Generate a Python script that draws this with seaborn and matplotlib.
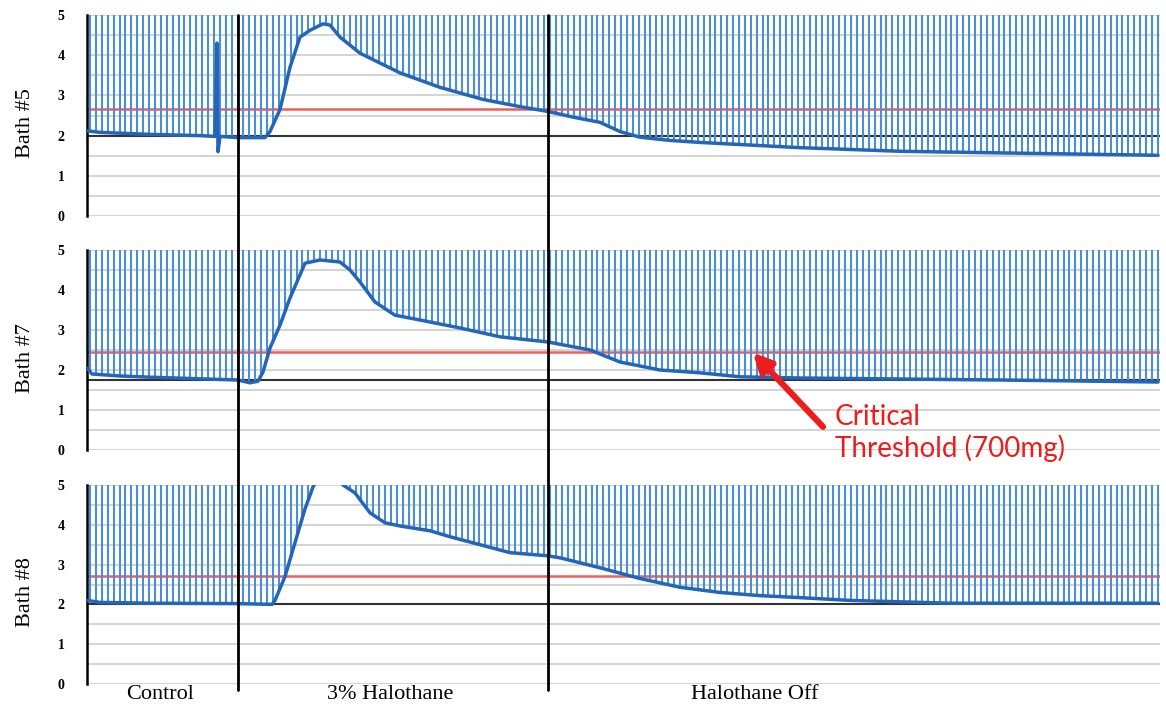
import numpy as np
import matplotlib
matplotlib.use("Agg")
import matplotlib.pyplot as plt
import matplotlib.transforms as mtransforms
from matplotlib.lines import Line2D
import seaborn as sns

# ---------------- data (time in minutes, force in arbitrary units) ----------------
bath_names = ["Bath #5", "Bath #7", "Bath #8"]

bath5_t = [0.0, 1.3, 6.3, 11.3, 12.8, 13.0, 13.1, 13.3, 15.1, 17.8, 18.3, 19.3, 20.3, 21.3, 22.3, 23.6, 24.3, 25.3, 27.3, 31.3, 35.3, 39.6, 43.3, 46.1, 48.8, 51.3, 53.3, 55.3, 58.3, 61.3, 71.3, 81.3, 91.3, 107.1]
bath5_v = [2.12, 2.08, 2.03, 2.00, 1.98, 4.30, 1.60, 1.98, 1.95, 1.95, 2.10, 2.65, 3.70, 4.45, 4.62, 4.78, 4.75, 4.45, 4.05, 3.56, 3.20, 2.90, 2.72, 2.60, 2.45, 2.33, 2.10, 1.96, 1.88, 1.83, 1.70, 1.61, 1.57, 1.51]

bath7_t = [0.0, 0.5, 3.3, 6.3, 11.3, 15.1, 16.3, 17.1, 17.6, 18.3, 19.3, 20.3, 21.8, 23.3, 25.3, 26.3, 27.3, 28.8, 30.8, 33.3, 37.3, 41.3, 46.1, 50.3, 53.3, 57.3, 61.3, 65.3, 71.3, 91.3, 107.1]
bath7_v = [2.05, 1.90, 1.85, 1.82, 1.78, 1.75, 1.68, 1.72, 1.95, 2.55, 3.12, 3.80, 4.67, 4.75, 4.70, 4.50, 4.20, 3.70, 3.37, 3.25, 3.05, 2.83, 2.70, 2.50, 2.20, 2.00, 1.93, 1.83, 1.80, 1.75, 1.70]

bath8_t = [0.0, 1.3, 6.3, 15.1, 18.5, 18.8, 19.8, 20.8, 21.8, 22.6, 23.3, 24.8, 25.6, 26.8, 28.3, 29.8, 31.3, 34.3, 36.3, 39.3, 42.3, 46.1, 47.3, 51.3, 55.3, 59.3, 63.3, 67.3, 71.3, 76.3, 86.3, 107.1]
bath8_v = [2.10, 2.05, 2.03, 2.02, 2.00, 2.10, 2.70, 3.55, 4.40, 4.95, 5.30, 5.30, 5.00, 4.80, 4.30, 4.05, 3.97, 3.85, 3.70, 3.50, 3.30, 3.22, 3.17, 2.92, 2.65, 2.43, 2.30, 2.22, 2.17, 2.10, 2.03, 2.03]

baselines = [2.0, 1.75, 2.0]          # black reference lines
thresholds = [2.65, 2.45, 2.72]       # red critical threshold (700 mg)

phase_bounds = [15.1, 46.1]           # end of Control, end of 3% Halothane
phase_labels = ["Control", "3% Halothane", "Halothane Off"]
phase_label_pos = [7.3, 30.3, 66.8]

stim_start = 0.3
stim_interval = 0.59                  # twitch stimulation period
t_end = 107.3

traces = [(bath5_t, bath5_v), (bath7_t, bath7_v), (bath8_t, bath8_v)]

# ---------------- figure ----------------
sns.set_theme(style="white")
plt.rcParams["font.family"] = ["Liberation Serif", "DejaVu Serif"]
plt.rcParams["text.color"] = "black"
plt.rcParams["axes.labelcolor"] = "black"
plt.rcParams["xtick.color"] = "black"
plt.rcParams["ytick.color"] = "black"

W, H = 1166, 710
fig = plt.figure(figsize=(W / 100, H / 100), dpi=100)

panel_px = [(15, 216), (250, 450), (485, 684)]   # top, bottom in pixels
left_px, right_px = 87, 1160

spike_color = "#4a8fd6"
trace_color = "#2366b8"

axes = []
stim_t = np.arange(stim_start, t_end - 0.1, stim_interval)
for i, ((top, bot), (tt, vv)) in enumerate(zip(panel_px, traces)):
    ax = fig.add_axes([left_px / W, 1 - bot / H, (right_px - left_px) / W, (bot - top) / H])
    axes.append(ax)
    ax.set_xlim(0, t_end)
    ax.set_ylim(0, 5)

    # grid lines
    for g in np.arange(0, 5.01, 0.5):
        ax.axhline(g, color="#d4d4d4", lw=1.4, zorder=0)

    # twitch spikes from trace up to top
    bottoms = np.minimum(np.interp(stim_t, tt, vv), 5)
    ax.vlines(stim_t, bottoms, 5, color=spike_color, lw=1.5, zorder=2)

    # baseline & threshold
    ax.axhline(baselines[i], color="#333333", lw=1.5, zorder=1)
    ax.axhline(thresholds[i], color="#f25c5c", lw=1.8, zorder=1.5)

    # force trace
    sns.lineplot(x=tt, y=vv, ax=ax, color=trace_color, lw=2.5, zorder=3, estimator=None, sort=False)

    # styling
    for s in ["top", "right", "bottom"]:
        ax.spines[s].set_visible(False)
    ax.spines["left"].set_color("black")
    ax.spines["left"].set_linewidth(1.8)
    ax.set_yticks([0, 1, 2, 3, 4, 5])
    ax.set_yticklabels(["0", "1", "2", "3", "4", "5"], fontweight="bold", fontsize=10)
    ax.tick_params(axis="y", length=0, pad=16, labelcolor="black")
    ax.set_ylabel(bath_names[i], fontsize=16, color="black")
    ax.yaxis.set_label_coords(-0.048, 0.46)
    ax.set_xlabel("")
    if i < 2:
        ax.set_xticks([])
    else:
        ax.set_xticks(phase_label_pos)
        ax.set_xticklabels(phase_labels, fontsize=16)
        ax.tick_params(axis="x", length=0, pad=1, labelcolor="black")

# vertical phase lines spanning all panels
trans = mtransforms.blended_transform_factory(axes[2].transData, fig.transFigure)
for xb in phase_bounds:
    fig.add_artist(Line2D([xb, xb], [1 - 690 / H, 1 - 15 / H], transform=trans,
                          color="black", lw=2.0, zorder=10))

# annotation on Bath #7
ax2 = axes[1]
ax2.annotate("", xy=(66.6, 2.43), xytext=(73.6, 0.58), xycoords="data",
             arrowprops=dict(arrowstyle="-|>,head_length=0.9,head_width=0.45",
                             color="#ee1c1c", lw=4.5, shrinkA=0, shrinkB=0),
             annotation_clip=False, zorder=12)
fig.text(835 / W, 1 - 404 / H, "Critical\nThreshold (700mg)", color="#ee1c1c",
         fontsize=20, family=["Lato", "DejaVu Sans"], ha="left", va="top",
         linespacing=1.2)

fig.savefig("out.png", dpi=100)
